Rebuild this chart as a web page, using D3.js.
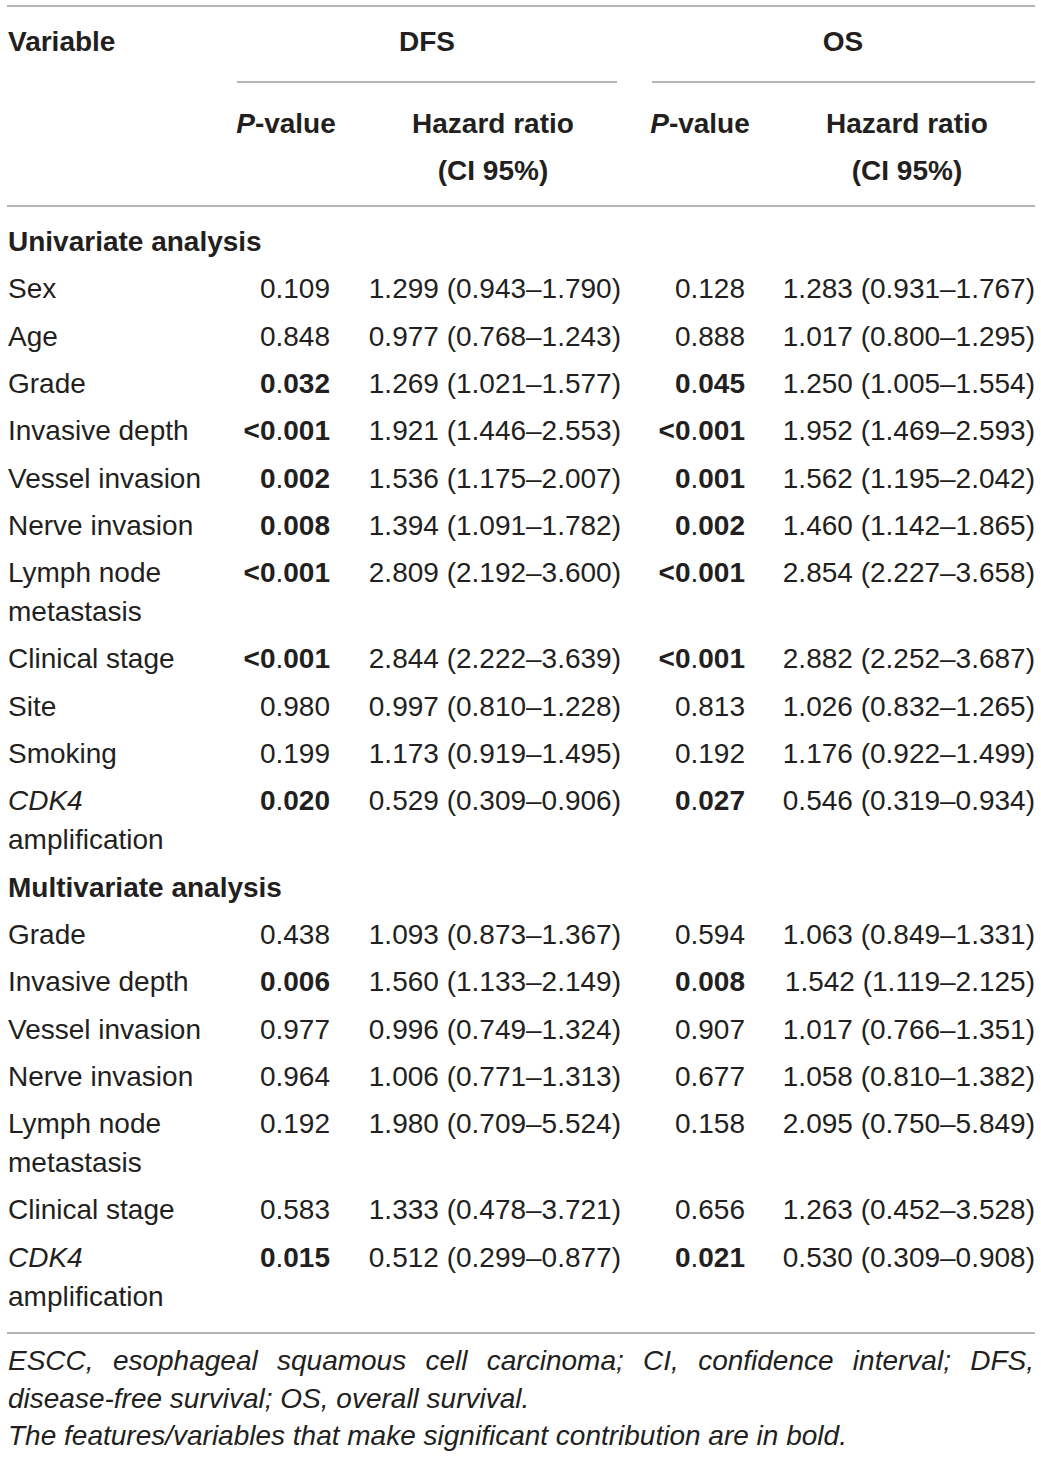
<!DOCTYPE html>
<html>
<head>
<meta charset="utf-8">
<script src="https://cdn.jsdelivr.net/npm/d3@7"></script>
<style>
  body { margin: 0; background: #fff; }
  svg text { font-family: "Liberation Sans", Arial, sans-serif; fill: #231f20; }
  .foot { font-style: italic; }
</style>
</head>
<body>
<div class="main_content"></div>
<script>
// Table content
const sections = ['Univariate analysis', 'Multivariate analysis'];

const uniVariables = ['Sex', 'Age', 'Grade', 'Invasive depth', 'Vessel invasion', 'Nerve invasion',
    'Lymph node|metastasis', 'Clinical stage', 'Site', 'Smoking', '*CDK4|amplification'];
const uniDfsP = ['0.109', '0.848', '0.032', '<0.001', '0.002', '0.008', '<0.001', '<0.001', '0.980', '0.199', '0.020'];
const uniDfsHR = [[1.299, 0.943, 1.790], [0.977, 0.768, 1.243], [1.269, 1.021, 1.577], [1.921, 1.446, 2.553],
    [1.536, 1.175, 2.007], [1.394, 1.091, 1.782], [2.809, 2.192, 3.600], [2.844, 2.222, 3.639],
    [0.997, 0.810, 1.228], [1.173, 0.919, 1.495], [0.529, 0.309, 0.906]];
const uniOsP = ['0.128', '0.888', '0.045', '<0.001', '0.001', '0.002', '<0.001', '<0.001', '0.813', '0.192', '0.027'];
const uniOsHR = [[1.283, 0.931, 1.767], [1.017, 0.800, 1.295], [1.250, 1.005, 1.554], [1.952, 1.469, 2.593],
    [1.562, 1.195, 2.042], [1.460, 1.142, 1.865], [2.854, 2.227, 3.658], [2.882, 2.252, 3.687],
    [1.026, 0.832, 1.265], [1.176, 0.922, 1.499], [0.546, 0.319, 0.934]];

const multiVariables = ['Grade', 'Invasive depth', 'Vessel invasion', 'Nerve invasion',
    'Lymph node|metastasis', 'Clinical stage', '*CDK4|amplification'];
const multiDfsP = ['0.438', '0.006', '0.977', '0.964', '0.192', '0.583', '0.015'];
const multiDfsHR = [[1.093, 0.873, 1.367], [1.560, 1.133, 2.149], [0.996, 0.749, 1.324], [1.006, 0.771, 1.313],
    [1.980, 0.709, 5.524], [1.333, 0.478, 3.721], [0.512, 0.299, 0.877]];
const multiOsP = ['0.594', '0.008', '0.907', '0.677', '0.158', '0.656', '0.021'];
const multiOsHR = [[1.063, 0.849, 1.331], [1.542, 1.119, 2.125], [1.017, 0.766, 1.351], [1.058, 0.810, 1.382],
    [2.095, 0.750, 5.849], [1.263, 0.452, 3.528], [0.530, 0.309, 0.908]];

const footnotes = [
    'ESCC, esophageal squamous cell carcinoma; CI, confidence interval; DFS,',
    'disease-free survival; OS, overall survival.',
    'The features/variables that make significant contribution are in bold.'
];

class HazardTable {
    constructor() {
        this.width = 1041;
        this.height = 1457;
        this.fontSize = 28;
        this.rowStep = 47.3;   // first line of a row
        this.lineStep = 39;    // each wrapped line
        this.cols = {varX: 8, dfsP: 330, dfsHR: 621, osP: 745, osHR: 1035};
    }

    fmtHR (d) {
        return d[0].toFixed(3) + ' (' + d[1].toFixed(3) + '\u2013' + d[2].toFixed(3) + ')';
    }

    isSig (p) {
        return +p.replace('<', '') < 0.05;
    }

    buildRows () {
        let rows = [];
        let add = (title, vars, dp, dh, op, oh) => {
            rows.push({section: title, lines: 1});
            vars.forEach((v, i) => {
                let parts = v.split('|');
                rows.push({name: parts, lines: parts.length,
                    dfsP: dp[i], dfsHR: this.fmtHR(dh[i]), osP: op[i], osHR: this.fmtHR(oh[i])});
            });
        };
        add(sections[0], uniVariables, uniDfsP, uniDfsHR, uniOsP, uniOsHR);
        add(sections[1], multiVariables, multiDfsP, multiDfsHR, multiOsP, multiOsHR);

        // cumulative vertical placement (center of first line)
        let y = 241;
        rows.forEach(r => {
            r.y = y;
            y += this.rowStep + (r.lines - 1) * this.lineStep;
        });
        return rows;
    }

    // bold value with a regular-weight decimal point, as in the source typesetting
    pValue (sel, p) {
        if (!this.isSig(p)) {
            sel.text(p);
            return;
        }
        let k = p.indexOf('.');
        sel.append('tspan').attr('font-weight', 'bold').text(p.slice(0, k));
        sel.append('tspan').text('.');
        sel.append('tspan').attr('font-weight', 'bold').text(p.slice(k + 1));
    }

    render () {
        let div = d3.select('.main_content').append('div').classed('hazard_table', true);
        this.svg = div.append('svg')
            .attr('width', this.width)
            .attr('height', this.height)
            .style('font-size', this.fontSize + 'px');

        let rule = (x1, x2, y) => this.svg.append('line')
            .attr('x1', x1).attr('x2', x2).attr('y1', y).attr('y2', y)
            .style('stroke', '#9d9d9d').style('stroke-width', 1.6);

        rule(7, 1035, 6);
        rule(237, 617, 82);
        rule(652, 1035, 82);
        rule(7, 1035, 206);
        rule(7, 1035, 1333);

        let base = 0.36 * this.fontSize;   // center -> baseline

        // header
        let head = this.svg.append('g').attr('font-weight', 'bold');
        head.append('text').attr('x', this.cols.varX).attr('y', 41 + base).text('Variable');
        head.append('text').attr('x', 427).attr('y', 41 + base).attr('text-anchor', 'middle').text('DFS');
        head.append('text').attr('x', 843).attr('y', 41 + base).attr('text-anchor', 'middle').text('OS');
        [286, 700].forEach(cx => {
            let t = head.append('text').attr('x', cx).attr('y', 123 + base).attr('text-anchor', 'middle');
            t.append('tspan').attr('font-style', 'italic').text('P');
            t.append('tspan').text('-value');
        });
        [493, 907].forEach(cx => {
            head.append('text').attr('x', cx).attr('y', 123 + base).attr('text-anchor', 'middle').text('Hazard ratio');
            head.append('text').attr('x', cx).attr('y', 170 + base).attr('text-anchor', 'middle').text('(CI 95%)');
        });

        // body
        let rows = this.buildRows();
        let g = this.svg.selectAll('g.row').data(rows).enter().append('g')
            .classed('row', true)
            .attr('transform', d => 'translate(0,' + (d.y + base) + ')');

        g.filter(d => d.section).append('text')
            .attr('x', this.cols.varX).attr('font-weight', 'bold')
            .text(d => d.section);

        let body = g.filter(d => !d.section);
        let that = this;
        body.each(function (d) {
            let row = d3.select(this);
            d.name.forEach((n, i) => {
                let italic = n.startsWith('*');
                row.append('text')
                    .attr('x', that.cols.varX)
                    .attr('y', i * that.lineStep)
                    .attr('font-style', italic ? 'italic' : null)
                    .text(italic ? n.slice(1) : n);
            });
            that.pValue(row.append('text').attr('x', that.cols.dfsP).attr('text-anchor', 'end'), d.dfsP);
            row.append('text').attr('x', that.cols.dfsHR).attr('text-anchor', 'end').text(d.dfsHR);
            that.pValue(row.append('text').attr('x', that.cols.osP).attr('text-anchor', 'end'), d.osP);
            row.append('text').attr('x', that.cols.osHR).attr('text-anchor', 'end').text(d.osHR);
        });

        // footnotes (first line justified across the table width)
        let foot = this.svg.append('g').attr('class', 'foot').style('font-size', '28px');
        foot.selectAll('text').data(footnotes).enter().append('text')
            .attr('class', 'foot')
            .attr('x', 8)
            .attr('y', (d, i) => 1370 + i * 37.6)
            .text(d => d)
            .each(function (d, i) {
                if (i !== 0) return;
                let w = this.getComputedTextLength();
                let gaps = d.split(' ').length - 1;
                d3.select(this).style('word-spacing', ((1034 - 8 - w) / gaps) + 'px');
            });
    }
}

let table = new HazardTable();
table.render();
</script>
</body>
</html>
